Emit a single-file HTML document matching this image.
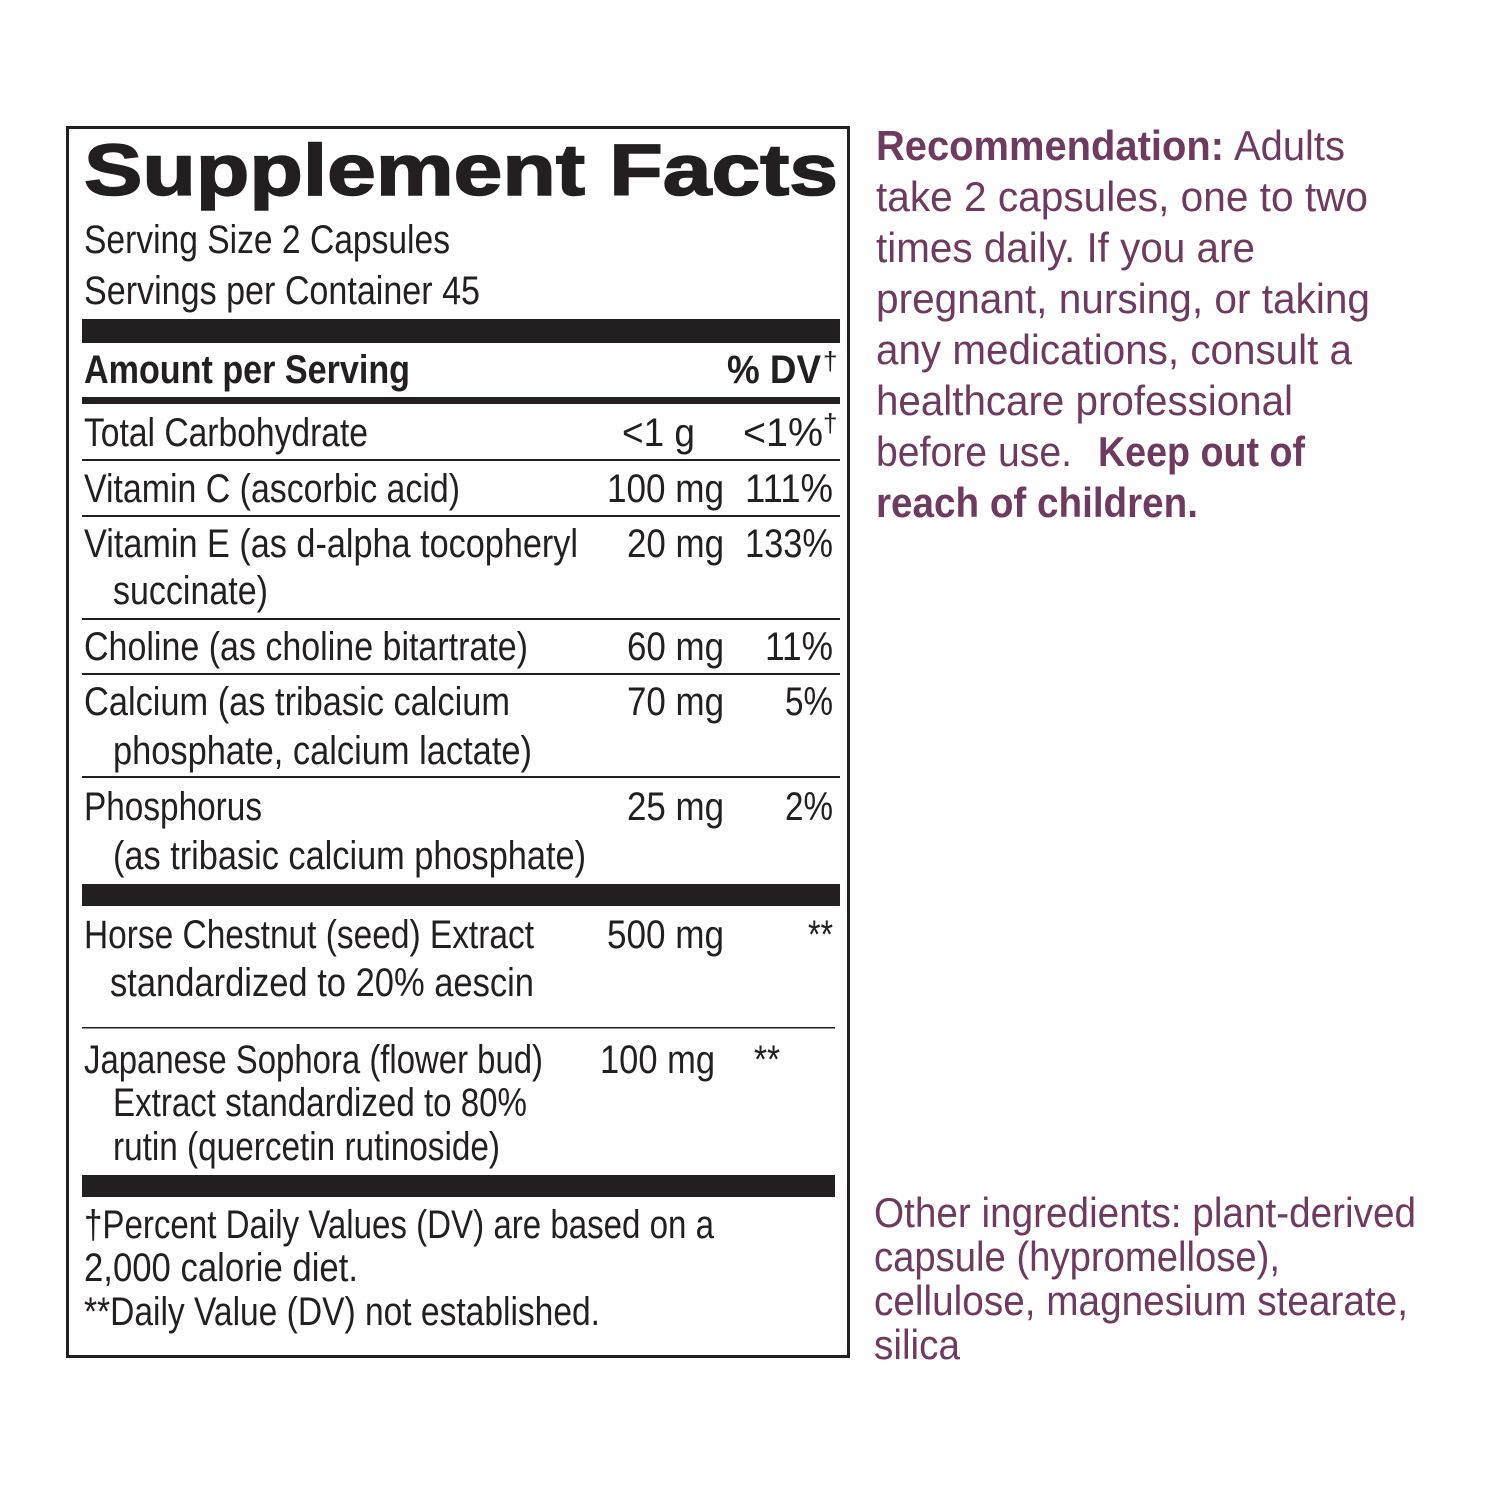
<!DOCTYPE html>
<html><head><meta charset="utf-8"><style>html,body{margin:0;padding:0;background:#fff}svg{display:block}</style></head><body>
<svg width="1500" height="1500" viewBox="0 0 1500 1500" xmlns="http://www.w3.org/2000/svg" font-family="'Liberation Sans Narrow','Liberation Sans',sans-serif">
<rect x="0" y="0" width="1500" height="1500" fill="#fff"/>
<rect x="67.5" y="127.5" width="781" height="1229" fill="none" stroke="#231f20" stroke-width="3"/>
<g fill="#231f20" font-size="40" lengthAdjust="spacingAndGlyphs">
<text x="84" y="195" font-size="72" font-weight="bold" font-family="'Liberation Sans',sans-serif" stroke="#231f20" stroke-width="1.6" textLength="754" lengthAdjust="spacingAndGlyphs">Supplement Facts</text>
<text x="84" y="253" textLength="366" lengthAdjust="spacingAndGlyphs">Serving Size 2 Capsules</text>
<text x="84" y="304" textLength="396" lengthAdjust="spacingAndGlyphs">Servings per Container 45</text>
<rect x="82" y="319" width="758" height="24"/>
<text x="84" y="383" font-weight="bold" textLength="326" lengthAdjust="spacingAndGlyphs">Amount per Serving</text>
<text x="727" y="383" font-weight="bold" textLength="94" lengthAdjust="spacingAndGlyphs">% DV</text>
<text x="823" y="370" font-size="26">†</text>
<rect x="82" y="397" width="758" height="7"/>
<text x="84" y="446" textLength="284" lengthAdjust="spacingAndGlyphs">Total Carbohydrate</text>
<text x="622" y="446" textLength="73" lengthAdjust="spacingAndGlyphs">&lt;1 g</text>
<text x="743" y="446" textLength="80" lengthAdjust="spacingAndGlyphs">&lt;1%</text>
<text x="823" y="432" font-size="26">†</text>
<rect x="82" y="459" width="758" height="2"/>
<text x="84" y="502" textLength="376" lengthAdjust="spacingAndGlyphs">Vitamin C (ascorbic acid)</text>
<text x="607" y="502" textLength="117" lengthAdjust="spacingAndGlyphs">100 mg</text>
<text x="745" y="502" textLength="88" lengthAdjust="spacingAndGlyphs">111%</text>
<rect x="82" y="515" width="758" height="2"/>
<text x="84" y="557" textLength="494" lengthAdjust="spacingAndGlyphs">Vitamin E (as d-alpha tocopheryl</text>
<text x="627" y="557" textLength="97" lengthAdjust="spacingAndGlyphs">20 mg</text>
<text x="745" y="557" textLength="88" lengthAdjust="spacingAndGlyphs">133%</text>
<text x="113" y="604" textLength="155" lengthAdjust="spacingAndGlyphs">succinate)</text>
<rect x="82" y="618" width="758" height="2"/>
<text x="84" y="660" textLength="444" lengthAdjust="spacingAndGlyphs">Choline (as choline bitartrate)</text>
<text x="627" y="660" textLength="97" lengthAdjust="spacingAndGlyphs">60 mg</text>
<text x="765" y="660" textLength="68" lengthAdjust="spacingAndGlyphs">11%</text>
<rect x="82" y="673" width="758" height="2"/>
<text x="84" y="715" textLength="426" lengthAdjust="spacingAndGlyphs">Calcium (as tribasic calcium</text>
<text x="627" y="715" textLength="97" lengthAdjust="spacingAndGlyphs">70 mg</text>
<text x="785" y="715" textLength="48" lengthAdjust="spacingAndGlyphs">5%</text>
<text x="113" y="764" textLength="419" lengthAdjust="spacingAndGlyphs">phosphate, calcium lactate)</text>
<rect x="82" y="776" width="758" height="2"/>
<text x="84" y="820" textLength="178" lengthAdjust="spacingAndGlyphs">Phosphorus</text>
<text x="627" y="820" textLength="97" lengthAdjust="spacingAndGlyphs">25 mg</text>
<text x="785" y="820" textLength="48" lengthAdjust="spacingAndGlyphs">2%</text>
<text x="113" y="869" textLength="473" lengthAdjust="spacingAndGlyphs">(as tribasic calcium phosphate)</text>
<rect x="82" y="884" width="758" height="22"/>
<text x="84" y="948" textLength="450" lengthAdjust="spacingAndGlyphs">Horse Chestnut (seed) Extract</text>
<text x="607" y="948" textLength="117" lengthAdjust="spacingAndGlyphs">500 mg</text>
<text x="808" y="948" textLength="25" lengthAdjust="spacingAndGlyphs">**</text>
<text x="110" y="996" textLength="424" lengthAdjust="spacingAndGlyphs">standardized to 20% aescin</text>
<rect x="82" y="1027" width="753" height="1.5"/>
<text x="84" y="1073" textLength="459" lengthAdjust="spacingAndGlyphs">Japanese Sophora (flower bud)</text>
<text x="600" y="1073" textLength="115" lengthAdjust="spacingAndGlyphs">100 mg</text>
<text x="754" y="1073" textLength="26" lengthAdjust="spacingAndGlyphs">**</text>
<text x="113" y="1116" textLength="414" lengthAdjust="spacingAndGlyphs">Extract standardized to 80%</text>
<text x="113" y="1160" textLength="387" lengthAdjust="spacingAndGlyphs">rutin (quercetin rutinoside)</text>
<rect x="82" y="1175" width="753" height="22"/>
<text x="84" y="1238" textLength="630" lengthAdjust="spacingAndGlyphs">†Percent Daily Values (DV) are based on a</text>
<text x="84" y="1281" textLength="274" lengthAdjust="spacingAndGlyphs">2,000 calorie diet.</text>
<text x="84" y="1325" textLength="516" lengthAdjust="spacingAndGlyphs">**Daily Value (DV) not established.</text>
</g>
<g fill="#6e3a5e" font-size="42">
<text x="876" y="160" font-weight="bold" textLength="348" lengthAdjust="spacingAndGlyphs">Recommendation:</text>
<text x="1234" y="160" textLength="111" lengthAdjust="spacingAndGlyphs">Adults</text>
<text x="876" y="211" textLength="492" lengthAdjust="spacingAndGlyphs">take 2 capsules, one to two</text>
<text x="876" y="262" textLength="379" lengthAdjust="spacingAndGlyphs">times daily. If you are</text>
<text x="876" y="313" textLength="494" lengthAdjust="spacingAndGlyphs">pregnant, nursing, or taking</text>
<text x="876" y="364" textLength="476" lengthAdjust="spacingAndGlyphs">any medications, consult a</text>
<text x="876" y="415" textLength="417" lengthAdjust="spacingAndGlyphs">healthcare professional</text>
<text x="876" y="466" textLength="196" lengthAdjust="spacingAndGlyphs">before use.</text>
<text x="1098" y="466" font-weight="bold" textLength="207" lengthAdjust="spacingAndGlyphs">Keep out of</text>
<text x="876" y="517" font-weight="bold" textLength="322" lengthAdjust="spacingAndGlyphs">reach of children.</text>
<text x="874" y="1227" textLength="542" lengthAdjust="spacingAndGlyphs">Other ingredients: plant-derived</text>
<text x="874" y="1271" textLength="406" lengthAdjust="spacingAndGlyphs">capsule (hypromellose),</text>
<text x="874" y="1315" textLength="534" lengthAdjust="spacingAndGlyphs">cellulose, magnesium stearate,</text>
<text x="874" y="1359" textLength="86" lengthAdjust="spacingAndGlyphs">silica</text>
</g>
</svg>
</body></html>
